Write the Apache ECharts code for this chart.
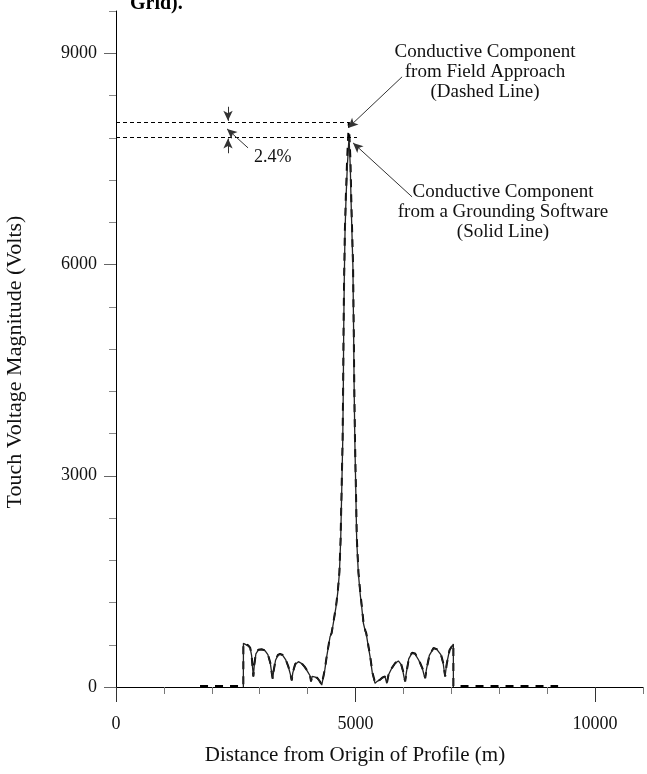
<!DOCTYPE html>
<html>

<head>
    <meta charset="utf-8">
    <title></title>
    <style>
        html, body { margin: 0; padding: 0; background: #fff; }
        #chart { width: 647px; height: 774px; }
    </style>
</head>

<body>
    <div id="chart"></div>
    <script src="https://cdn.jsdelivr.net/npm/echarts@6/dist/echarts.min.js"></script>
    <script>
    // 数据: [距离 m, 电压 V]
    var solidLine = [
        [2658, 0], [2660, 620], [2700, 610], [2760, 585], [2800, 555], [2830, 450], [2850, 280], [2867, 146],
        [2885, 300], [2920, 470], [2970, 525], [3040, 530], [3110, 515], [3170, 460], [3220, 340], [3250, 200],
        [3270, 114], [3290, 220], [3330, 380], [3380, 450], [3424, 464], [3480, 450], [3540, 390], [3600, 280],
        [3640, 180], [3668, 90], [3690, 200], [3740, 320], [3807, 360], [3870, 335], [3940, 280], [3990, 230],
        [4015, 218], [4050, 160], [4071, 76], [4095, 150], [4120, 146], [4160, 140], [4203, 123], [4250, 80],
        [4294, 28], [4320, 52], [4360, 250], [4398, 431], [4440, 600], [4468, 715], [4480, 690], [4500, 760],
        [4537, 909], [4593, 1140], [4630, 1350], [4663, 1619], [4690, 2088], [4715, 2900], [4733, 3509],
        [4745, 4300], [4752, 5028], [4765, 5800], [4780, 6449], [4800, 6918], [4828, 7390], [4864, 7808],
        [4890, 7390], [4906, 6918], [4925, 6449], [4945, 5970], [4960, 5028], [4970, 4300], [4985, 3509],
        [5005, 2800], [5024, 2088], [5058, 1619], [5100, 1300], [5128, 1140], [5163, 909], [5200, 800],
        [5220, 760], [5233, 715], [5250, 700], [5270, 560], [5303, 431], [5350, 200], [5407, 52], [5450, 80],
        [5511, 100], [5560, 130], [5616, 146], [5651, 52], [5686, 170], [5750, 260], [5825, 336], [5894, 370],
        [5950, 320], [5990, 220], [6015, 130], [6033, 76], [6060, 200], [6110, 400], [6173, 478], [6240, 470],
        [6320, 380], [6400, 250], [6430, 170], [6451, 123], [6480, 250], [6540, 450], [6625, 549], [6700, 530],
        [6780, 460], [6830, 330], [6868, 146], [6900, 320], [6960, 520], [7042, 611], [7042, 0]
    ];
    var dashedLine = [
        [1754, 15], [2658, 15], [2658, 625], [2700, 612], [2760, 590], [2800, 560], [2830, 455], [2850, 290],
        [2867, 150], [2885, 310], [2920, 475], [2970, 530], [3040, 535], [3110, 520], [3170, 465], [3220, 345],
        [3250, 205], [3270, 118], [3290, 225], [3330, 385], [3380, 455], [3424, 470], [3480, 455], [3540, 395],
        [3600, 285], [3640, 185], [3668, 95], [3690, 205], [3740, 325], [3807, 365], [3870, 340], [3940, 285],
        [3990, 235], [4015, 222], [4050, 165], [4071, 80], [4095, 155], [4120, 150], [4160, 145], [4203, 128],
        [4250, 85], [4294, 32], [4320, 56], [4360, 255], [4398, 436], [4440, 605], [4468, 720], [4480, 695],
        [4500, 765], [4537, 915], [4593, 1150], [4630, 1360], [4663, 1630], [4688, 2100], [4712, 2900],
        [4730, 3520], [4742, 4300], [4749, 5040], [4762, 5820], [4777, 6470], [4797, 6950], [4824, 7480],
        [4860, 8016], [4894, 7480], [4910, 6950], [4929, 6470], [4948, 5990], [4963, 5040], [4973, 4300],
        [4988, 3520], [5008, 2800], [5027, 2100], [5061, 1630], [5103, 1310], [5131, 1150], [5166, 915],
        [5203, 805], [5223, 765], [5236, 720], [5253, 705], [5273, 565], [5306, 436], [5353, 205], [5410, 56],
        [5453, 85], [5514, 105], [5563, 135], [5619, 150], [5654, 56], [5689, 175], [5753, 265], [5828, 340],
        [5897, 375], [5953, 325], [5993, 225], [6018, 135], [6036, 80], [6063, 205], [6113, 405], [6176, 485],
        [6243, 475], [6323, 385], [6403, 255], [6433, 175], [6454, 128], [6483, 255], [6543, 455], [6628, 555],
        [6703, 535], [6783, 465], [6833, 335], [6871, 150], [6903, 325], [6963, 525], [7042, 615], [7042, 15],
        [9228, 15]
    ];
    var xMajorTicks = [0, 5000, 10000];
    var yMajorTicks = [0, 3000, 6000, 9000];
    var peakDashed = 8016;
    var peakSolid = 7808;

    // 注释箭头 (数据坐标)
    var arrowField = [[5971, 8665], [4843, 7940]];
    var arrowSoftware = [[6180, 6960], [4948, 7727]];
    var arrowPct = [[2756, 7656], [2317, 7926]];
    var arrowDown = [[2338, 8240], [2338, 8040]];
    var arrowUp = [[2338, 7580], [2338, 7790]];

    var font = 'Liberation Serif';

    function arrow(pts) {
        return [
            { coord: pts[0], symbol: 'none' },
            { coord: pts[1], symbol: 'arrow', symbolSize: [7, 10] }
        ];
    }
    function plain(v) {
        return String(v);
    }

    var myChart = echarts.init(document.getElementById('chart'));

    var option = {
        animation: false,
        backgroundColor: '#fff',
        grid: { left: 116, right: 4, top: 11, bottom: 87, containLabel: false },
        xAxis: [{
            type: 'value', min: 0, max: 11000, interval: 1000,
            axisLine: { lineStyle: { color: '#000', width: 1 } },
            axisTick: { length: 7, lineStyle: { color: '#777' } },
            axisLabel: { show: false },
            splitLine: { show: false }
        }, {
            type: 'value', min: 0, max: 11000, interval: 5000, position: 'bottom',
            axisLine: { show: false },
            axisTick: { length: 15, customValues: xMajorTicks, lineStyle: { color: '#333' } },
            axisLabel: {
                customValues: xMajorTicks, margin: 28, formatter: plain,
                fontFamily: font, fontSize: 18, color: '#111'
            },
            splitLine: { show: false }
        }],
        yAxis: [{
            type: 'value', min: 0, max: 9600, interval: 600,
            axisLine: { show: true, lineStyle: { color: '#000', width: 1 } },
            axisTick: { show: true, length: 7, lineStyle: { color: '#888' } },
            axisLabel: { show: false },
            splitLine: { show: false }
        }, {
            type: 'value', min: 0, max: 9600, interval: 3000, position: 'left',
            axisLine: { show: false },
            axisTick: { show: true, length: 12, customValues: yMajorTicks, lineStyle: { color: '#666' } },
            axisLabel: {
                customValues: yMajorTicks, margin: 19, formatter: plain,
                fontFamily: font, fontSize: 18, color: '#111'
            },
            splitLine: { show: false }
        }],
        graphic: [{
            type: 'text', left: 130, top: -6,
            style: { text: 'Grid).', font: 'bold 20px "Liberation Serif"', fill: '#000' }
        }, {
            type: 'text', x: 355, y: 755,
            style: {
                text: 'Distance from Origin of Profile (m)', font: '21px "Liberation Serif"',
                fill: '#111', align: 'center', verticalAlign: 'middle'
            }
        }, {
            type: 'text', x: 15, y: 362, rotation: Math.PI / 2,
            style: {
                text: 'Touch Voltage Magnitude (Volts)', font: '22px "Liberation Serif"',
                fill: '#111', align: 'center', verticalAlign: 'middle'
            }
        }, {
            type: 'text', x: 485, y: 42,
            style: {
                text: 'Conductive Component\nfrom Field Approach\n(Dashed Line)',
                font: '19px "Liberation Serif"', fill: '#111', align: 'center', lineHeight: 20
            }
        }, {
            type: 'text', x: 503, y: 182,
            style: {
                text: 'Conductive Component\nfrom a Grounding Software\n(Solid Line)',
                font: '19px "Liberation Serif"', fill: '#111', align: 'center', lineHeight: 20
            }
        }, {
            type: 'text', x: 254, y: 148,
            style: { text: '2.4%', font: '18px "Liberation Serif"', fill: '#111' }
        }],
        series: [{
            name: 'field',
            type: 'line',
            data: dashedLine,
            showSymbol: false,
            z: 2,
            lineStyle: { color: '#000', width: 2, type: [8, 7] }
        }, {
            name: 'software',
            type: 'line',
            data: solidLine,
            showSymbol: false,
            z: 3,
            lineStyle: { color: '#222', width: 1.3 },
            markLine: {
                silent: true,
                animation: false,
                label: { show: false },
                lineStyle: { color: '#333', width: 1, type: 'solid' },
                data: [
                    [{ coord: [0, peakDashed], symbol: 'none', lineStyle: { type: [4, 3], color: '#000' } },
                        { coord: [4880, peakDashed], symbol: 'none' }],
                    [{ coord: [0, peakSolid], symbol: 'none', lineStyle: { type: [4, 3], color: '#000' } },
                        { coord: [5030, peakSolid], symbol: 'none' }],
                    arrow(arrowField),
                    arrow(arrowSoftware),
                    arrow(arrowPct),
                    arrow(arrowDown),
                    arrow(arrowUp)
                ]
            }
        }]
    };

    myChart.setOption(option);
    addEventListener('resize', myChart.resize);
    </script>
</body>

</html>
